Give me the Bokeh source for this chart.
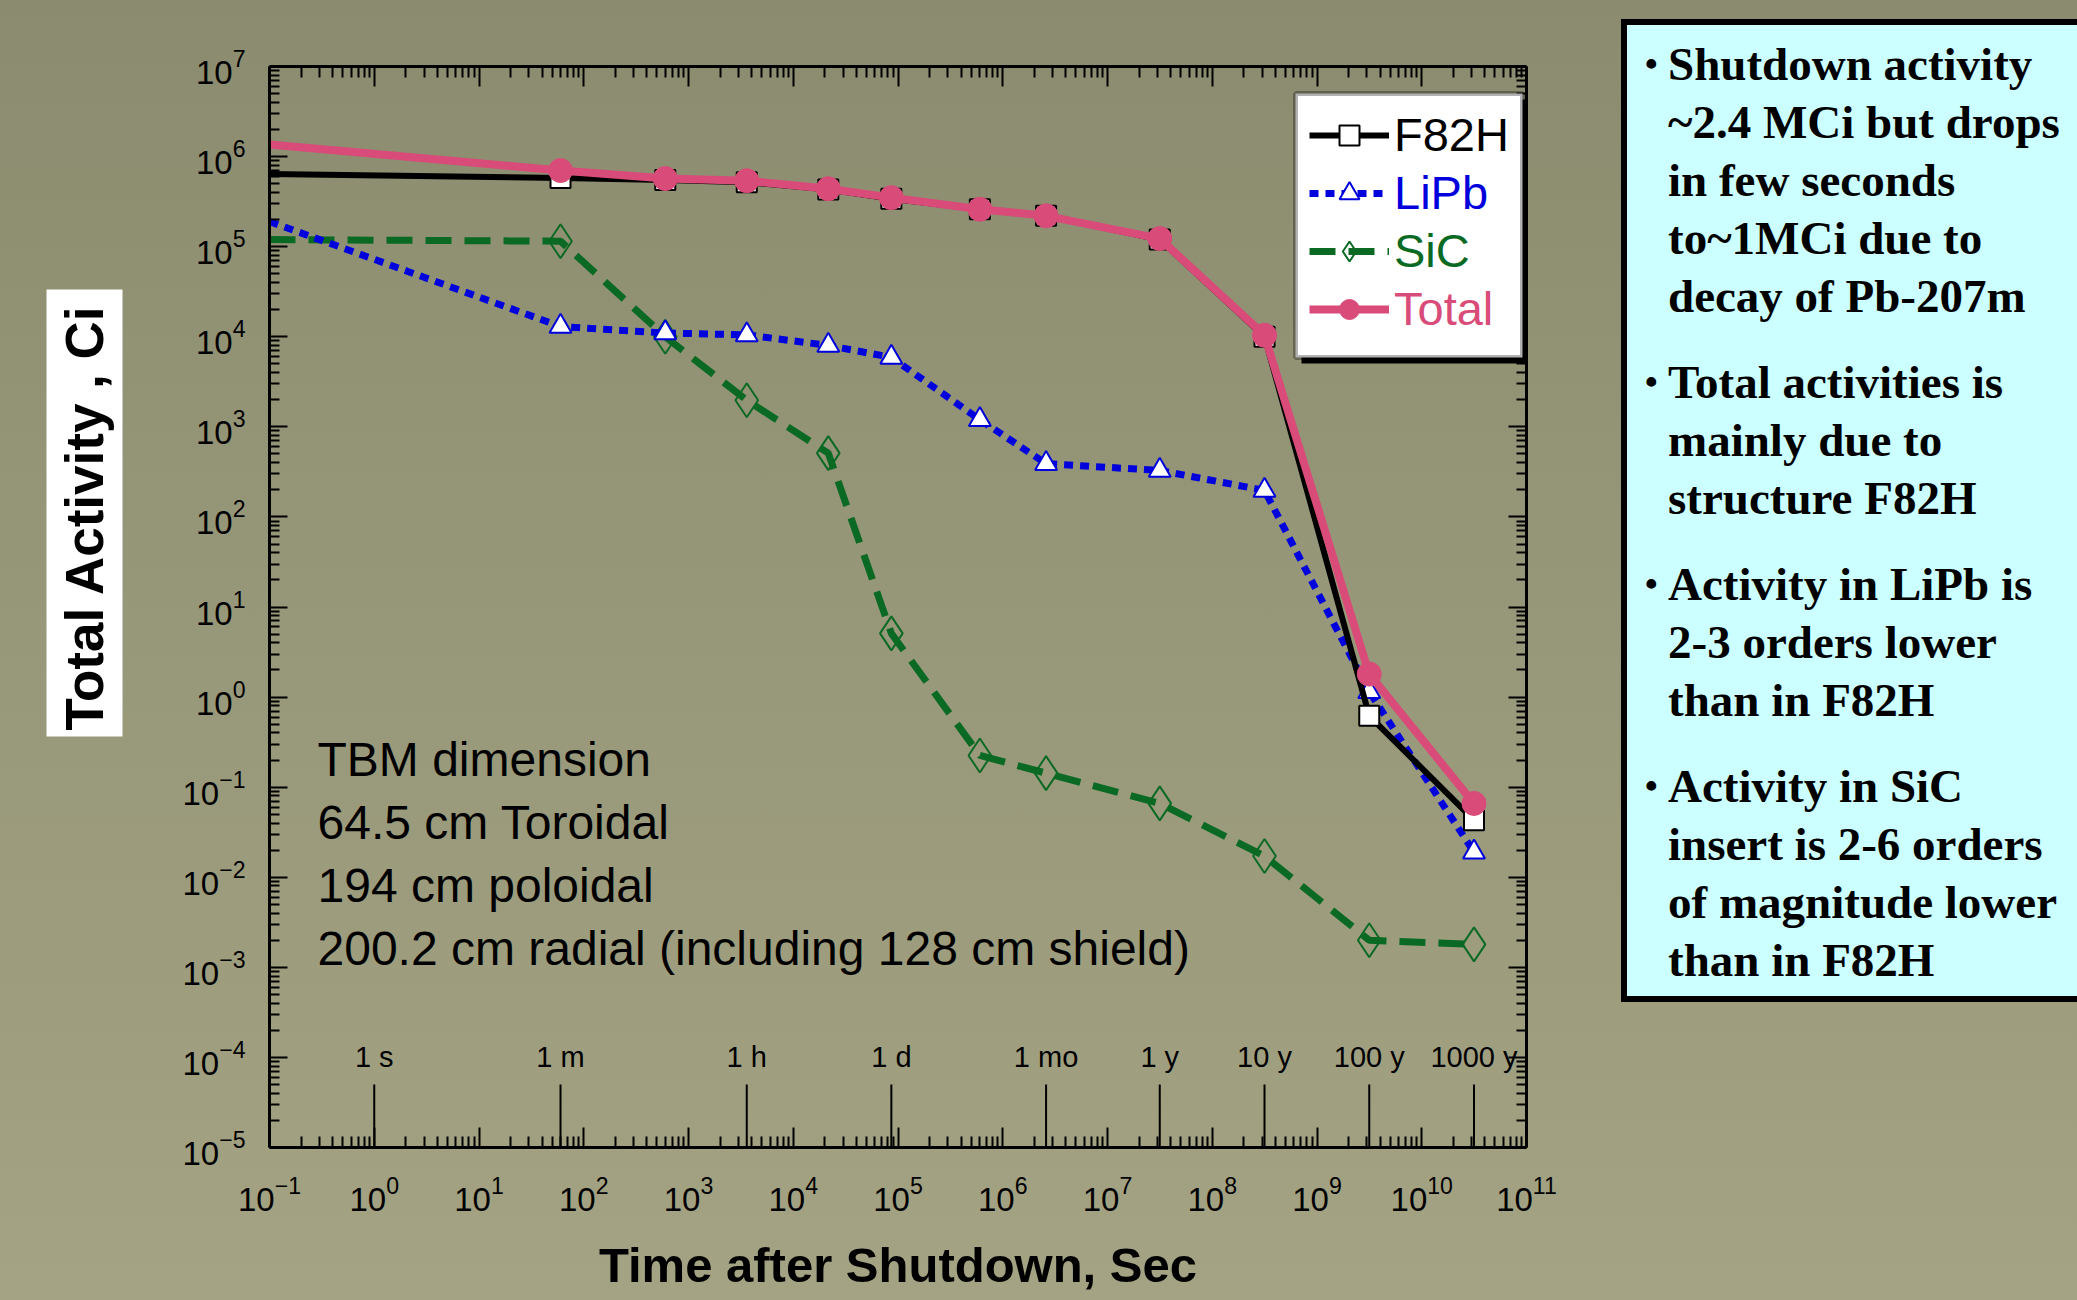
import math
from bokeh.plotting import figure
from bokeh.models import (Range1d, LogAxis, FixedTicker, Label, Legend, LegendItem,
                          BoxAnnotation, ColumnDataSource, CustomJSTickFormatter, Div)
from bokeh.layouts import row
from bokeh.core.properties import value
from bokeh.embed import file_html
from bokeh.resources import INLINE

# ---------------- data ----------------
time_s = [0.1, 60, 600, 3600, 21600, 86400, 604800, 2.592e6, 3.1536e7, 3.1536e8, 3.1536e9, 3.1536e10]
f82h = [6.4e5, 5.8e5, 5.5e5, 5.2e5, 4.3e5, 3.4e5, 2.6e5, 2.2e5, 1.2e5, 1.0e4, 0.62, 0.043]
lipb = [1.9e5, 1.3e4, 1.1e4, 1.05e4, 8.0e3, 5.9e3, 1.2e3, 390, 328, 197, 1.15, 0.019]
sic = [1.2e5, 1.15e5, 1.0e4, 1.97e3, 5.1e2, 5.1, 0.225, 0.143, 0.066, 0.0172, 0.002, 0.0018]
total = [1.36e6, 7.0e5, 5.7e5, 5.4e5, 4.4e5, 3.5e5, 2.6e5, 2.2e5, 1.23e5, 1.04e4, 1.8, 0.066]

mark_labels = ["1 s", "1 m", "1 h", "1 d", "1 mo", "1 y", "10 y", "100 y", "1000 y"]
mark_times = [1, 60, 3600, 86400, 2.592e6, 3.1536e7, 3.1536e8, 3.1536e9, 3.1536e10]

x_decades = list(range(-1, 12))
y_decades = list(range(-5, 8))

tbm_lines = ["TBM dimension", "64.5 cm Toroidal", "194 cm poloidal",
             "200.2 cm radial (including 128 cm shield)"]

bullets = [
    ["Shutdown activity", "~2.4 MCi but drops", "in few seconds", "to~1MCi due to", "decay of Pb-207m"],
    ["Total activities is", "mainly due to", "structure F82H"],
    ["Activity in LiPb is", "2-3 orders lower", "than in F82H"],
    ["Activity in SiC", "insert is 2-6 orders", "of magnitude lower", "than in F82H"],
]

# ---------------- styles ----------------
SANS = "Liberation Sans"
C_F82H = "black"
C_LIPB = "#0000dd"
C_SIC = "#0a6a23"
C_TOT = "#d94b78"

p = figure(width=1450, height=1300, x_axis_type="log", y_axis_type="log",
           x_range=Range1d(0.1, 1e11), y_range=Range1d(1e-5, 1e7),
           output_backend="svg", toolbar_location=None,
           min_border_left=119, min_border_right=74, min_border_top=66, min_border_bottom=153)
p.grid.visible = False
p.background_fill_alpha = 0
p.border_fill_alpha = 0
p.outline_line_alpha = 0

x_major = [10.0 ** k for k in x_decades]
x_minor = [m * 10.0 ** k for k in x_decades[:-1] for m in range(2, 10)]
y_major = [10.0 ** k for k in y_decades]
y_minor = [m * 10.0 ** k for k in y_decades[:-1] for m in range(2, 10)]


def style_axis(ax, tin, min_in):
    ax.axis_line_width = 3
    ax.axis_line_color = "black"
    ax.major_tick_in = tin
    ax.major_tick_out = 0
    ax.minor_tick_in = min_in
    ax.minor_tick_out = 0
    ax.major_tick_line_width = 2
    ax.minor_tick_line_width = 2
    ax.major_label_text_font = SANS
    ax.major_label_text_font_size = "33px"
    ax.major_label_text_color = "black"


xa = p.xaxis[0]
xa.ticker = FixedTicker(ticks=x_major, minor_ticks=x_minor)
style_axis(xa, 20, 11)
xa.major_label_standoff = 28
xa.axis_label = "Time after Shutdown, Sec"
xa.axis_label_text_font = SANS
xa.axis_label_text_font_style = "bold"
xa.axis_label_text_font_size = "49px"
xa.axis_label_text_color = "black"
xa.axis_label_standoff = 24

ya = p.yaxis[0]
ya.ticker = FixedTicker(ticks=y_major, minor_ticks=y_minor)
style_axis(ya, 18, 10)
ya.major_label_standoff = 24

blank = CustomJSTickFormatter(code="return ''")
top_ax = LogAxis(ticker=FixedTicker(ticks=x_major, minor_ticks=x_minor), formatter=blank)
style_axis(top_ax, 20, 11)
top_ax.major_label_standoff = 0
p.add_layout(top_ax, "above")
right_ax = LogAxis(ticker=FixedTicker(ticks=y_major, minor_ticks=y_minor), formatter=blank)
style_axis(right_ax, 18, 10)
right_ax.major_label_standoff = 0
p.add_layout(right_ax, "right")

# time reference marks
mark_top = 10 ** -4.3
p.segment(x0=mark_times, x1=mark_times, y0=[1e-5] * len(mark_times), y1=[mark_top] * len(mark_times),
          line_color="black", line_width=2)
p.text(x=mark_times, y=[10 ** -4.0] * len(mark_times), text=mark_labels,
       text_font=value(SANS), text_font_size="29px", text_align="center",
       text_baseline="middle", text_color="black")

# series
src = ColumnDataSource(dict(t=time_s, f=f82h, l=lipb, s=sic, tot=total))
pts = ColumnDataSource(dict(t=time_s[1:], f=f82h[1:], l=lipb[1:], s=sic[1:], tot=total[1:]))

r_s_line = p.line("t", "s", source=src, line_color=C_SIC, line_width=7, line_dash="26 13")
r_s_pts = p.scatter("t", "s", source=pts, marker="diamond", size=34,
                    fill_alpha=0, line_color=C_SIC, line_width=2)
r_l_line = p.line("t", "l", source=src, line_color=C_LIPB, line_width=7, line_dash="9 7")
r_l_pts = p.scatter("t", "l", source=pts, marker="triangle", size=22,
                    fill_color="white", line_color=C_LIPB, line_width=2)
r_f_line = p.line("t", "f", source=src, line_color=C_F82H, line_width=6)
r_f_pts = p.scatter("t", "f", source=pts, marker="square", size=20,
                    fill_color="white", line_color="black", line_width=2)
r_t_line = p.line("t", "tot", source=src, line_color=C_TOT, line_width=8)
r_t_pts = p.scatter("t", "tot", source=pts, marker="circle", size=24,
                    fill_color=C_TOT, line_color=C_TOT)

# legend frame + shadow (kept inside the frame)
p.add_layout(BoxAnnotation(left=1032, right=1262, top=1048, bottom=784,
                           left_units="screen", right_units="screen", top_units="screen",
                           bottom_units="screen", fill_color="black", fill_alpha=1, line_alpha=0))
p.add_layout(BoxAnnotation(left=1026, right=1253, top=1054, bottom=790,
                           left_units="screen", right_units="screen", top_units="screen",
                           bottom_units="screen", fill_color="white", fill_alpha=1,
                           line_color="black", line_width=5))

legend_specs = [("F82H", [r_f_line, r_f_pts], C_F82H),
                ("LiPb", [r_l_line, r_l_pts], C_LIPB),
                ("SiC", [r_s_line, r_s_pts], C_SIC),
                ("Total", [r_t_line, r_t_pts], C_TOT)]
for i, (lab, rends, col) in enumerate(legend_specs):
    lg = Legend(items=[LegendItem(label=lab, renderers=rends)], location=(1040, 985 - 58 * i),
                border_line_alpha=0, background_fill_alpha=0, padding=0, margin=0, spacing=0,
                glyph_width=80, glyph_height=50, label_height=50, label_standoff=5,
                label_text_font=SANS, label_text_font_size="47px", label_text_color=col)
    p.add_layout(lg)

# TBM note
for i, line in enumerate(tbm_lines):
    p.add_layout(Label(x=48, y=388 - 63 * i, x_units="screen", y_units="screen", text=line,
                       text_font=SANS, text_font_size="48px", text_color="black",
                       text_baseline="alphabetic"))

# ---------------- left strip with boxed y-axis title ----------------
pl = figure(width=150, height=1300, x_range=Range1d(0, 150), y_range=Range1d(0, 1081),
            output_backend="svg", toolbar_location=None, x_axis_location=None,
            y_axis_location=None, min_border_left=0, min_border_right=0,
            min_border_top=66, min_border_bottom=153)
pl.grid.visible = False
pl.background_fill_alpha = 0
pl.border_fill_alpha = 0
pl.outline_line_alpha = 0
pl.quad(left=[46], right=[122], bottom=[411], top=[858], fill_color="white", line_alpha=0)
pl.text(x=[84], y=[630], text=["Total Activity , Ci"], angle=math.pi / 2,
        text_font=value(SANS), text_font_style="bold", text_font_size="53px",
        text_align="center", text_baseline="middle", text_color="black")

# ---------------- right text box ----------------
groups_html = []
for group in bullets:
    groups_html.append(
        '<div style="position:relative;padding-left:41px;margin-bottom:28px;">'
        '<span style="position:absolute;left:18px;top:0;font-size:36px;">&bull;</span>'
        + "<br>".join(group) + "</div>")
box_html = (
    '<div style="box-sizing:border-box;width:470px;height:1290px;padding:14px 0 0 16px;">'
    '<div style="box-sizing:border-box;width:460px;height:983px;background:#ccffff;'
    'border:6px solid #000;border-right:none;padding-top:10px;'
    "font-family:'Liberation Serif',serif;font-weight:bold;font-size:47px;"
    'line-height:58px;color:#000;white-space:nowrap;overflow:hidden;">'
    + "".join(groups_html) + "</div></div>")
div = Div(text=box_html, width=477, height=1300)

layout = row(pl, p, div, spacing=0)
layout.styles = {"background": "linear-gradient(#8b8b6f, #a4a484)"}

open("out.html", "w").write(file_html(layout, INLINE))
